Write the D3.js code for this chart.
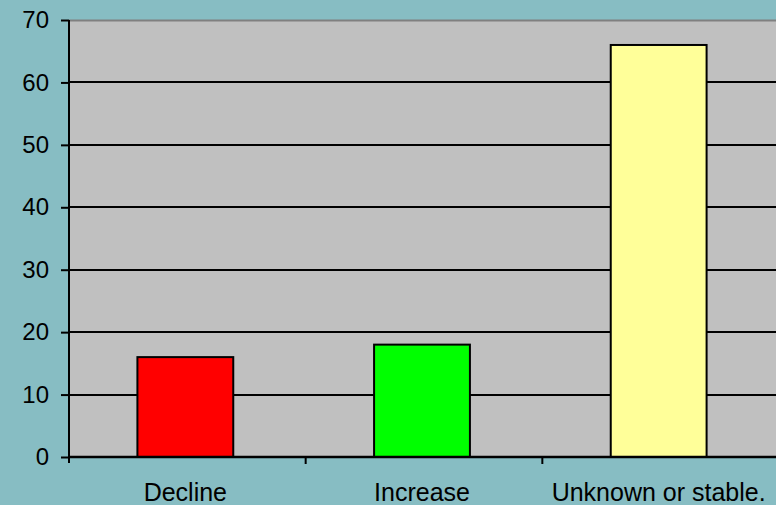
<!DOCTYPE html>
<html>
<head>
<meta charset="utf-8">
<script src="https://cdn.jsdelivr.net/npm/d3@7"></script>
<style>
  html, body { margin: 0; padding: 0; background: #87bdc3; }
  svg { display: block; }
  text { font-family: "Liberation Sans", Arial, sans-serif; fill: #000; }
</style>
</head>
<body>
<svg id="chart" width="776" height="505"></svg>
<script>
// Categories and their counts
const categories = ["Decline", "Increase", "Unknown or stable."];
const values = [16, 18, 66];
const colors = ["#ff0000", "#00ff00", "#ffff99"];
const yTicks = [0, 10, 20, 30, 40, 50, 60, 70];

const W = 776, H = 505;
const margin = { top: 20, right: -3, bottom: 48, left: 69 };
const plotW = W - margin.left - margin.right;
const plotH = H - margin.top - margin.bottom;

const svg = d3.select("#chart");
svg.append("rect").attr("width", W).attr("height", H).attr("fill", "#87bdc3");

const g = svg.append("g").attr("transform", `translate(${margin.left},${margin.top})`);

const x = d3.scaleBand().domain(categories).range([0, plotW]).paddingInner(0).paddingOuter(0);
const y = d3.scaleLinear().domain([0, 70]).range([plotH, 0]);

// Plot area
g.append("rect").attr("width", plotW).attr("height", plotH).attr("fill", "#c0c0c0");
g.append("line").attr("x1", 0).attr("x2", plotW).attr("y1", 0.5).attr("y2", 0.5)
  .attr("stroke", "#808080").attr("stroke-width", 2);

// Gridlines
g.selectAll("line.grid").data(yTicks.filter(d => d > 0 && d < 70)).join("line")
  .attr("class", "grid")
  .attr("x1", 0).attr("x2", plotW)
  .attr("y1", d => Math.round(y(d))).attr("y2", d => Math.round(y(d)))
  .attr("stroke", "#000").attr("stroke-width", 2);

// Bars
const barW = x.bandwidth() * 0.405;
g.selectAll("rect.bar").data(values).join("rect")
  .attr("class", "bar")
  .attr("x", (d, i) => x(categories[i]) + x.bandwidth() / 2 - barW / 2 - 2)
  .attr("y", d => y(d))
  .attr("width", barW)
  .attr("height", d => plotH - y(d))
  .attr("fill", (d, i) => colors[i])
  .attr("stroke", "#000").attr("stroke-width", 2);

// Y axis
const yAxis = d3.axisLeft(y).tickValues(yTicks).tickSize(8).tickPadding(12).tickFormat(d3.format("d"));
const ya = g.append("g").call(yAxis);
ya.select(".domain").attr("stroke", "#000").attr("stroke-width", 2).attr("d", `M0,0V${plotH + 6}`);
ya.selectAll(".tick line").attr("stroke", "#000").attr("stroke-width", 2);
ya.selectAll(".tick text").attr("font-size", 24).attr("font-family", "Liberation Sans, Arial, sans-serif").attr("fill", "#000");

// X axis
const xa = g.append("g").attr("transform", `translate(0,${plotH})`);
xa.append("line").attr("x1", 0).attr("x2", plotW).attr("y1", 0).attr("y2", 0)
  .attr("stroke", "#000").attr("stroke-width", 2.5);
const bounds = categories.map(c => x(c));
xa.selectAll("line.tick").data(bounds.slice(1)).join("line")
  .attr("class", "tick")
  .attr("x1", d => d).attr("x2", d => d).attr("y1", 0).attr("y2", 7)
  .attr("stroke", "#000").attr("stroke-width", 2);
xa.selectAll("text.cat").data(categories).join("text")
  .attr("class", "cat")
  .attr("x", d => x(d) + x.bandwidth() / 2 - 2)
  .attr("y", 44)
  .attr("text-anchor", "middle")
  .attr("font-size", 25)
  .text(d => d);
</script>
</body>
</html>
